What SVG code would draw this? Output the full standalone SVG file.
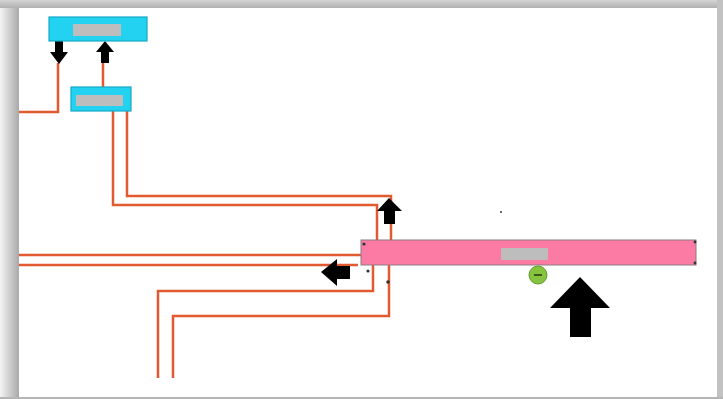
<svg xmlns="http://www.w3.org/2000/svg" width="723" height="399" viewBox="0 0 723 399">
  <defs>
    <linearGradient id="leftShade" x1="0" y1="0" x2="1" y2="0">
      <stop offset="0" stop-color="#f4f4f4"/>
      <stop offset="1" stop-color="#a9a9a9"/>
    </linearGradient>
    <linearGradient id="topShade" x1="0" y1="0" x2="0" y2="1">
      <stop offset="0" stop-color="#d4d4d4"/>
      <stop offset="1" stop-color="#b0b0b0"/>
    </linearGradient>
    <style>
      .wire { fill: none; stroke: #e25a2f; stroke-width: 2.5; stroke-linejoin: miter; }
      .block { fill: #22d2f0; stroke: #17a9c6; stroke-width: 1.2; }
      .tag { fill: #bdbdbd; }
      .bar { fill: #fc7ba4; stroke: #8a7a80; stroke-width: 1; }
      .dir { fill: #000; }
      .dot { fill: #333; }
    </style>
  </defs>

  <!-- page frame with soft shadow -->
  <rect x="0" y="0" width="723" height="399" fill="#e6e6e6"/>
  <rect x="0" y="0" width="19" height="399" fill="url(#leftShade)"/>
  <rect x="0" y="0" width="723" height="8" fill="url(#topShade)"/>
  <rect x="717" y="0" width="6" height="399" fill="#c2c2c2"/>
  <rect x="0" y="397" width="723" height="2" fill="#b5b5b5"/>
  <rect x="19" y="8" width="698" height="389" fill="#ffffff"/>

  <!-- connectors -->
  <g id="connectors">
    <polyline class="wire" points="58,63 58,112 19,112"/>
    <polyline class="wire" points="103,63 103,87"/>
    <polyline class="wire" points="113,111 113,205 377,205 377,252 373,252 373,291 158,291 158,378"/>
    <polyline class="wire" points="127,111 127,196 391,196 391,252 389,252 389,316 173,316 173,378"/>
    <polyline class="wire" points="19,255 361,255"/>
    <polyline class="wire" points="19,265 358,265"/>
  </g>

  <!-- direction arrows -->
  <g id="arrows">
    <polygon class="dir" points="55,41 63,41 63,52 68,52 59,64 50,52 55,52"/>
    <polygon class="dir" points="105,41 114,52 109,52 109,63 101,63 101,52 96,52"/>
    <polygon class="dir" points="389,198 402,211 395,211 395,224 384,224 384,211 377,211"/>
    <polygon class="dir" points="321,272 337,259 337,266 350,266 350,279 337,279 337,286"/>
    <polygon class="dir" points="580,277 610,308 591,308 591,337 570,337 570,308 550,308"/>
  </g>

  <!-- upper block -->
  <g id="block-top">
    <rect class="block" x="49" y="17" width="98" height="24"/>
    <rect class="tag" x="73" y="24" width="48" height="12"/>
  </g>

  <!-- lower block -->
  <g id="block-second">
    <rect class="block" x="71" y="87" width="60" height="24"/>
    <rect class="tag" x="76" y="95" width="47" height="11"/>
  </g>

  <!-- long bar -->
  <g id="bar">
    <rect class="bar" x="361" y="240" width="335" height="25"/>
    <rect class="tag" x="501" y="248" width="47" height="12" rx="1"/>
    <circle class="dot" cx="364" cy="244" r="1.6"/>
    <circle class="dot" cx="695" cy="242" r="1.4"/>
    <circle class="dot" cx="695" cy="263" r="1.4"/>
  </g>

  <!-- green marker -->
  <g id="marker">
    <circle cx="538" cy="275" r="9" fill="#86c440" stroke="#5f9a2a" stroke-width="1"/>
    <rect x="534" y="274" width="8" height="2" fill="#3b5a1c"/>
  </g>

  <!-- stray handle dots -->
  <g id="handles">
    <circle class="dot" cx="368" cy="271" r="1.6"/>
    <circle class="dot" cx="388" cy="282" r="1.8"/>
    <circle class="dot" cx="501" cy="212" r="1"/>
  </g>
</svg>
